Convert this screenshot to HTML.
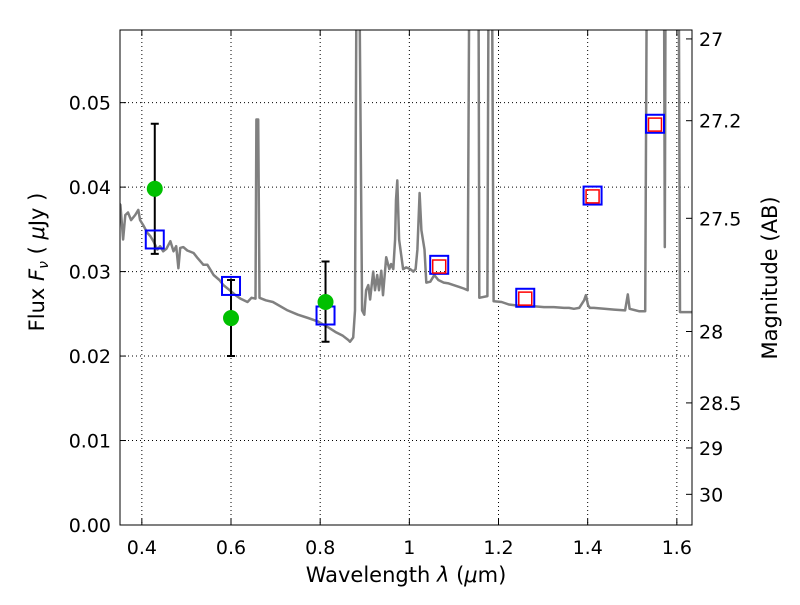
<!DOCTYPE html>
<html><head><meta charset="utf-8"><style>
body{margin:0;background:#fff;}
svg text{font-family:"DejaVu Sans","Liberation Sans",sans-serif;fill:#000;}
</style></head><body>
<svg id="chart" width="800" height="600" viewBox="0 0 800 600">
<defs><clipPath id="clip"><rect x="120" y="30" width="572" height="495"/></clipPath></defs>
<g id="grid"></g>
<g id="spec" clip-path="url(#clip)"></g>
<g id="marks"></g>
<rect x="120" y="30" width="572" height="495" fill="none" stroke="#000" stroke-width="1"/>
<g id="axes"></g>
<text x="406" y="582" text-anchor="middle" font-size="21">Wavelength  <tspan font-style="italic">λ</tspan> (<tspan font-style="italic">μ</tspan>m)</text>
<text transform="translate(44,262) rotate(-90)" text-anchor="middle" font-size="21">Flux  <tspan font-style="italic">F<tspan font-size="14" dy="4">ν</tspan></tspan><tspan dy="-4">  ( </tspan><tspan font-style="italic">μ</tspan>Jy )</text>
<text transform="translate(777,278) rotate(-90)" text-anchor="middle" font-size="21">Magnitude (AB)</text>
</svg>
<script>
const xTicks=[0.4,0.6,0.8,1.0,1.2,1.4,1.6];
const xTickLabels=["0.4","0.6","0.8","1","1.2","1.4","1.6"];
const yTicks=[0,0.01,0.02,0.03,0.04,0.05];
const yTickLabels=["0.00","0.01","0.02","0.03","0.04","0.05"];
const magTicks=[27,27.2,27.5,28,28.5,29,30];
const magTickLabels=["27","27.2","27.5","28","28.5","29","30"];
const specWave=[0.345,0.352,0.358,0.363,0.369,0.376,0.385,0.392,0.396,0.403,0.412,0.419,0.426,0.435,0.441,0.448,0.455,0.464,0.471,0.477,0.482,0.486,0.493,0.502,0.516,0.525,0.538,0.547,0.561,0.574,0.583,0.597,0.610,0.621,0.637,0.646,0.655,0.657,0.661,0.664,0.678,0.694,0.727,0.750,0.773,0.795,0.818,0.836,0.851,0.863,0.867,0.874,0.878,0.882,0.887,0.894,0.899,0.903,0.908,0.912,0.919,0.923,0.928,0.932,0.937,0.941,0.948,0.955,0.959,0.964,0.968,0.970,0.973,0.977,0.986,0.993,1.002,1.009,1.014,1.018,1.023,1.027,1.034,1.038,1.047,1.056,1.065,1.077,1.088,1.099,1.111,1.122,1.131,1.135,1.155,1.157,1.175,1.178,1.185,1.189,1.207,1.223,1.239,1.257,1.279,1.302,1.324,1.347,1.358,1.369,1.381,1.392,1.396,1.401,1.405,1.414,1.437,1.459,1.484,1.490,1.494,1.516,1.529,1.533,1.571,1.573,1.575,1.604,1.607,1.634];
const specFlux=[0.0384,0.0379,0.0338,0.0367,0.0370,0.0361,0.0367,0.0373,0.0361,0.0355,0.0346,0.0342,0.0336,0.0326,0.0330,0.0324,0.0327,0.0336,0.0324,0.0330,0.0304,0.0328,0.0329,0.0325,0.0322,0.0316,0.0308,0.0308,0.0296,0.0290,0.0284,0.0278,0.0272,0.0268,0.0264,0.0269,0.0268,0.0480,0.0480,0.0269,0.0266,0.0264,0.0254,0.0249,0.0245,0.0241,0.0234,0.0228,0.0224,0.0219,0.0217,0.0222,0.0254,0.0700,0.0700,0.0254,0.0249,0.0278,0.0284,0.0267,0.0300,0.0278,0.0296,0.0278,0.0301,0.0272,0.0317,0.0303,0.0309,0.0303,0.0338,0.0385,0.0408,0.0338,0.0303,0.0305,0.0303,0.0300,0.0303,0.0326,0.0393,0.0349,0.0326,0.0287,0.0288,0.0296,0.0290,0.0287,0.0286,0.0284,0.0282,0.0280,0.0278,0.0700,0.0700,0.0269,0.0271,0.0700,0.0700,0.0265,0.0264,0.0261,0.0260,0.0259,0.0259,0.0258,0.0258,0.0257,0.0257,0.0256,0.0257,0.0266,0.0272,0.0260,0.0257,0.0257,0.0256,0.0255,0.0254,0.0273,0.0256,0.0253,0.0253,0.0700,0.0700,0.0329,0.0700,0.0700,0.0252,0.0252];
const obsWave=[0.429,0.600,0.812];
const obsFlux=[0.0398,0.0245,0.0264];
const obsLow=[0.0321,0.0200,0.0217];
const obsHigh=[0.0475,0.0290,0.0312];
const modelWave=[0.429,0.600,0.812,1.067,1.260,1.411,1.551];
const modelFlux=[0.0338,0.0283,0.0248,0.0308,0.0269,0.0390,0.0475];
const redWave=[1.067,1.260,1.411,1.551];
const redFlux=[0.0306,0.0268,0.0389,0.0474];

const NS="http://www.w3.org/2000/svg";
const X0=120,X1=692,Y0=525,Y1=30,XMIN=0.351,XMAX=1.634,YMIN=0,YMAX=0.0586;
function sx(v){return X0+(v-XMIN)/(XMAX-XMIN)*(X1-X0);}
function sy(v){return Y0-(v-YMIN)/(YMAX-YMIN)*(Y0-Y1);}
function mk(tag,attrs,parent){const e=document.createElementNS(NS,tag);for(const k in attrs)e.setAttribute(k,attrs[k]);parent.appendChild(e);return e;}
const grid=document.getElementById('grid'),axes=document.getElementById('axes'),spec=document.getElementById('spec'),marks=document.getElementById('marks');
xTicks.forEach((t,i)=>{
  const x=sx(t);
  const g=mk('line',{x1:x,x2:x,y1:Y1,y2:Y0,stroke:'#000','stroke-dasharray':'1,3','stroke-width':1},grid);
  
  
  mk('line',{x1:x,x2:x,y1:Y0,y2:Y0-6,stroke:'#000'},axes);
  mk('line',{x1:x,x2:x,y1:Y1,y2:Y1+6,stroke:'#000'},axes);
  const tx=mk('text',{x:x,y:554,'text-anchor':'middle','font-size':19},axes);
  tx.textContent=xTickLabels[i];
  
  
});
yTicks.forEach((t,i)=>{
  const y=sy(t);
  const g=mk('line',{x1:X0,x2:X1,y1:y,y2:y,stroke:'#000','stroke-dasharray':'1,3','stroke-width':1},grid);
  
  
  mk('line',{x1:X0,x2:X0+6,y1:y,y2:y,stroke:'#000'},axes);
  const tx=mk('text',{x:111,y:y+7,'text-anchor':'end','font-size':19},axes);
  tx.textContent=yTickLabels[i];
  
  
});
magTicks.forEach((m,i)=>{
  const f=Math.pow(10,-(m-23.9)/2.5);
  const y=sy(f);
  mk('line',{x1:X1,x2:X1-6,y1:y,y2:y,stroke:'#000'},axes);
  const tx=mk('text',{x:699,y:Math.max(y+7,45),'font-size':19},axes);
  tx.textContent=magTickLabels[i];
  
  
});
let d='';
specWave.forEach((w,i)=>{d+=(i?'L':'M')+sx(w).toFixed(1)+','+sy(specFlux[i]).toFixed(1);});
const p=mk('path',{d:d,fill:'none',stroke:'#808080','stroke-width':2.5,'stroke-linejoin':'round'},spec);


obsWave.forEach((w,i)=>{
  const x=sx(w),y1=sy(obsLow[i]),y2=sy(obsHigh[i]);
  const e=mk('path',{d:`M${x},${y1}V${y2}M${x-4},${y1}H${x+4}M${x-4},${y2}H${x+4}`,stroke:'#000','stroke-width':2,fill:'none'},marks);
  
  
});
modelWave.forEach((w,i)=>{
  const r=mk('rect',{x:sx(w)-9,y:sy(modelFlux[i])-9,width:18,height:18,fill:'none',stroke:'#0000ff','stroke-width':2},marks);
  
  
});
redWave.forEach((w,i)=>{
  const r=mk('rect',{x:sx(w)-6.5,y:sy(redFlux[i])-6.5,width:13,height:13,fill:'none',stroke:'#ff0000','stroke-width':1.5},marks);
  
  
});
obsWave.forEach((w,i)=>{
  const c=mk('circle',{cx:sx(w),cy:sy(obsFlux[i]),r:8,fill:'#00c000'},marks);
  
  
});
</script>
</body></html>
